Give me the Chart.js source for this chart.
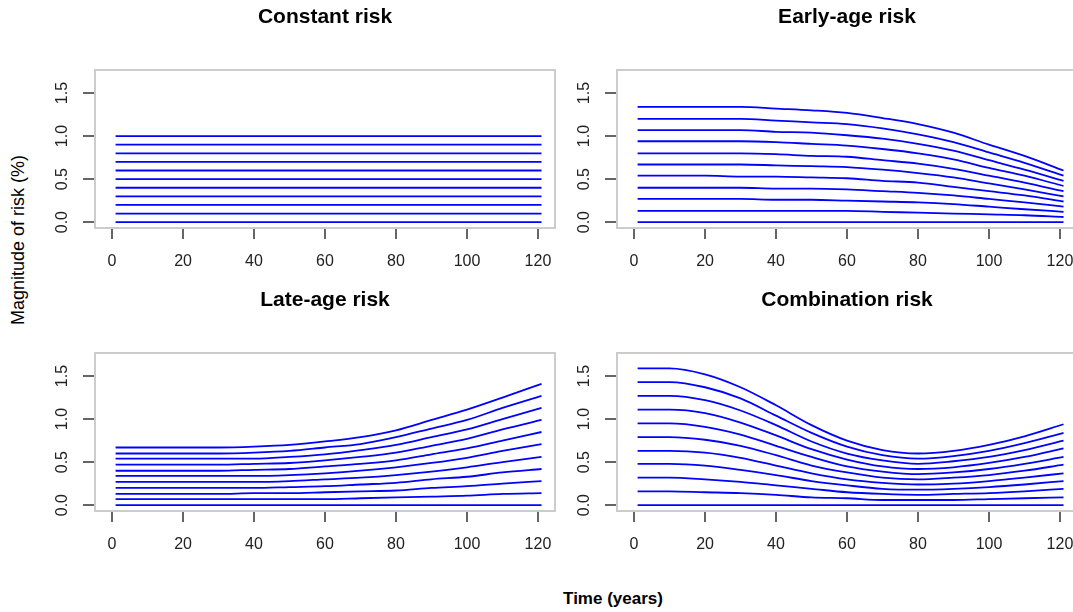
<!DOCTYPE html>
<html>
<head>
<meta charset="utf-8">
<script src="https://cdn.jsdelivr.net/npm/chart.js@4"></script>
<style>
  html, body { margin: 0; padding: 0; background: #fff; overflow: hidden; }
  body { width: 1073px; height: 612px; position: relative; font-family: "Liberation Sans", Arial, sans-serif; }
  canvas { position: absolute; }
  #ylab { position: absolute; left: 18px; top: 240px; transform: translate(-50%, -50%) rotate(-90deg);
          font-size: 18px; white-space: nowrap; color: #000; }
  #xlab { position: absolute; left: 613px; top: 599px; transform: translate(-50%, -50%);
          font-size: 17px; font-weight: bold; white-space: nowrap; color: #000; }
</style>
</head>
<body>
<canvas id="c1" width="530" height="283" style="left:30px;top:0px"></canvas>
<canvas id="c2" width="520" height="283" style="left:565px;top:0px"></canvas>
<canvas id="c3" width="530" height="283" style="left:30px;top:283px"></canvas>
<canvas id="c4" width="520" height="283" style="left:565px;top:283px"></canvas>
<div id="ylab">Magnitude of risk (%)</div>
<div id="xlab">Time (years)</div>
<script>
// time points (years) the curves were read at
const years = [1, 10, 20, 30, 40, 50, 60, 70, 80, 90, 100, 110, 121];
const constantYears = [1, 121];

const xTicks = [0, 20, 40, 60, 80, 100, 120];
const yTicks = [0, 0.5, 1, 1.5];
const yTickLabels = ['0.0', '0.5', '1.0', '1.5'];

// Constant risk: flat lines
const constantRisk = [
  [0, 0], [0.1, 0.1], [0.2, 0.2], [0.3, 0.3], [0.4, 0.4], [0.5, 0.5],
  [0.6, 0.6], [0.7, 0.7], [0.8, 0.8], [0.9, 0.9], [1.0, 1.0]
];

// Early-age risk
const earlyRisk = [
  [0, 0, 0, 0, 0, 0, 0, 0, 0, 0, 0, 0, 0],
  [0.13, 0.13, 0.13, 0.13, 0.13, 0.13, 0.13, 0.12, 0.11, 0.10, 0.09, 0.08, 0.06],
  [0.27, 0.27, 0.27, 0.27, 0.26, 0.26, 0.25, 0.24, 0.23, 0.21, 0.18, 0.15, 0.12],
  [0.40, 0.40, 0.40, 0.40, 0.39, 0.39, 0.38, 0.36, 0.34, 0.31, 0.27, 0.23, 0.18],
  [0.54, 0.54, 0.54, 0.53, 0.53, 0.52, 0.51, 0.48, 0.46, 0.41, 0.36, 0.31, 0.24],
  [0.67, 0.67, 0.67, 0.67, 0.66, 0.65, 0.64, 0.61, 0.57, 0.52, 0.45, 0.38, 0.30],
  [0.80, 0.80, 0.80, 0.80, 0.79, 0.77, 0.76, 0.72, 0.68, 0.62, 0.54, 0.46, 0.36],
  [0.94, 0.94, 0.94, 0.94, 0.93, 0.91, 0.89, 0.85, 0.80, 0.73, 0.63, 0.54, 0.42],
  [1.07, 1.07, 1.07, 1.07, 1.05, 1.04, 1.01, 0.97, 0.91, 0.83, 0.72, 0.61, 0.48],
  [1.20, 1.20, 1.20, 1.20, 1.18, 1.16, 1.14, 1.09, 1.02, 0.93, 0.81, 0.69, 0.54],
  [1.34, 1.34, 1.34, 1.34, 1.32, 1.30, 1.27, 1.21, 1.14, 1.04, 0.90, 0.77, 0.60]
];

// Late-age risk
const lateRisk = [
  [0, 0, 0, 0, 0, 0, 0, 0, 0, 0, 0, 0, 0],
  [0.07, 0.07, 0.07, 0.07, 0.07, 0.07, 0.07, 0.08, 0.09, 0.10, 0.11, 0.13, 0.14],
  [0.13, 0.13, 0.13, 0.13, 0.14, 0.14, 0.15, 0.16, 0.17, 0.20, 0.22, 0.25, 0.28],
  [0.20, 0.20, 0.20, 0.20, 0.20, 0.21, 0.22, 0.24, 0.26, 0.30, 0.33, 0.38, 0.42],
  [0.27, 0.27, 0.27, 0.27, 0.27, 0.28, 0.30, 0.32, 0.35, 0.39, 0.44, 0.50, 0.56],
  [0.34, 0.34, 0.34, 0.34, 0.34, 0.35, 0.37, 0.40, 0.44, 0.49, 0.55, 0.63, 0.71],
  [0.40, 0.40, 0.40, 0.40, 0.41, 0.42, 0.45, 0.48, 0.52, 0.59, 0.66, 0.75, 0.85],
  [0.47, 0.47, 0.47, 0.47, 0.48, 0.49, 0.52, 0.56, 0.61, 0.69, 0.77, 0.88, 0.99],
  [0.54, 0.54, 0.54, 0.54, 0.54, 0.56, 0.59, 0.64, 0.70, 0.79, 0.88, 1.00, 1.13],
  [0.60, 0.60, 0.60, 0.60, 0.61, 0.63, 0.67, 0.71, 0.79, 0.89, 0.99, 1.13, 1.27],
  [0.67, 0.67, 0.67, 0.67, 0.68, 0.70, 0.74, 0.79, 0.87, 0.99, 1.11, 1.25, 1.41]
];

// Combination risk
const comboRisk = [
  [0, 0, 0, 0, 0, 0, 0, 0, 0, 0, 0, 0, 0],
  [0.16, 0.16, 0.15, 0.14, 0.12, 0.09, 0.08, 0.06, 0.06, 0.06, 0.07, 0.08, 0.09],
  [0.32, 0.32, 0.30, 0.27, 0.23, 0.19, 0.15, 0.13, 0.12, 0.13, 0.14, 0.16, 0.19],
  [0.48, 0.48, 0.46, 0.41, 0.35, 0.28, 0.23, 0.19, 0.18, 0.19, 0.21, 0.24, 0.28],
  [0.63, 0.63, 0.61, 0.55, 0.46, 0.37, 0.30, 0.26, 0.24, 0.25, 0.28, 0.32, 0.37],
  [0.79, 0.79, 0.76, 0.69, 0.58, 0.46, 0.38, 0.32, 0.30, 0.32, 0.35, 0.40, 0.47],
  [0.95, 0.95, 0.91, 0.82, 0.69, 0.56, 0.45, 0.39, 0.36, 0.38, 0.42, 0.48, 0.56],
  [1.11, 1.11, 1.07, 0.96, 0.81, 0.65, 0.53, 0.45, 0.42, 0.44, 0.49, 0.56, 0.66],
  [1.27, 1.27, 1.22, 1.10, 0.93, 0.74, 0.60, 0.52, 0.48, 0.51, 0.56, 0.64, 0.75],
  [1.43, 1.43, 1.37, 1.24, 1.04, 0.84, 0.68, 0.58, 0.54, 0.57, 0.63, 0.72, 0.84],
  [1.59, 1.59, 1.52, 1.37, 1.16, 0.93, 0.75, 0.64, 0.60, 0.63, 0.70, 0.80, 0.94]
];

// draws the R-style box, ticks, tick labels and panel title
const rFrame = {
  id: 'rFrame',
  afterDraw(chart, args, opts) {
    const ctx = chart.ctx;
    const a = chart.chartArea;
    const x = chart.scales.x;
    const y = chart.scales.y;
    ctx.save();
    ctx.strokeStyle = '#cccccc';
    ctx.lineWidth = 2;
    ctx.strokeRect(a.left, a.top, a.right - a.left, a.bottom - a.top);

    ctx.strokeStyle = '#333333';
    ctx.lineWidth = 1.5;
    ctx.beginPath();
    xTicks.forEach(v => {
      const px = Math.round(x.getPixelForValue(v));
      ctx.moveTo(px, a.bottom + 1);
      ctx.lineTo(px, a.bottom + 11);
    });
    yTicks.forEach(v => {
      const py = Math.round(y.getPixelForValue(v));
      ctx.moveTo(a.left - 1, py);
      ctx.lineTo(a.left - 12, py);
    });
    ctx.stroke();

    ctx.fillStyle = '#222222';
    ctx.font = '16px "Liberation Sans", Arial, sans-serif';
    ctx.textAlign = 'center';
    ctx.textBaseline = 'middle';
    xTicks.forEach(v => ctx.fillText(String(v), x.getPixelForValue(v), a.bottom + 34));
    yTicks.forEach((v, i) => {
      ctx.save();
      ctx.translate(a.left - 32, y.getPixelForValue(v));
      ctx.rotate(-Math.PI / 2);
      ctx.fillText(yTickLabels[i], 0, 0);
      ctx.restore();
    });

    ctx.fillStyle = '#000000';
    ctx.font = 'bold 21px "Liberation Sans", Arial, sans-serif';
    ctx.fillText(opts.text, (a.left + a.right) / 2, 17);
    ctx.restore();
  }
};

function makePanel(id, title, xs, series, pad) {
  const datasets = series.map(vals => ({
    data: vals.map((v, i) => ({ x: xs[i], y: v })),
    borderColor: '#0000ff',
    borderWidth: 1.8,
    pointRadius: 0,
    fill: false,
    cubicInterpolationMode: 'monotone'
  }));
  new Chart(document.getElementById(id), {
    type: 'line',
    data: { datasets: datasets },
    options: {
      responsive: false,
      animation: false,
      layout: { padding: pad },
      plugins: { legend: { display: false }, tooltip: { enabled: false }, rFrame: { text: title } },
      scales: {
        x: { type: 'linear', min: -4.8, max: 124.8, display: false },
        y: { type: 'linear', min: -0.068, max: 1.768, display: false }
      }
    },
    plugins: [rFrame]
  });
}

const leftPad = { left: 65, right: 5, top: 70, bottom: 55 };
const rightPad = { left: 52, right: 8, top: 70, bottom: 55 };

makePanel('c1', 'Constant risk', constantYears, constantRisk, leftPad);
makePanel('c2', 'Early-age risk', years, earlyRisk, rightPad);
makePanel('c3', 'Late-age risk', years, lateRisk, leftPad);
makePanel('c4', 'Combination risk', years, comboRisk, rightPad);
</script>
</body>
</html>
